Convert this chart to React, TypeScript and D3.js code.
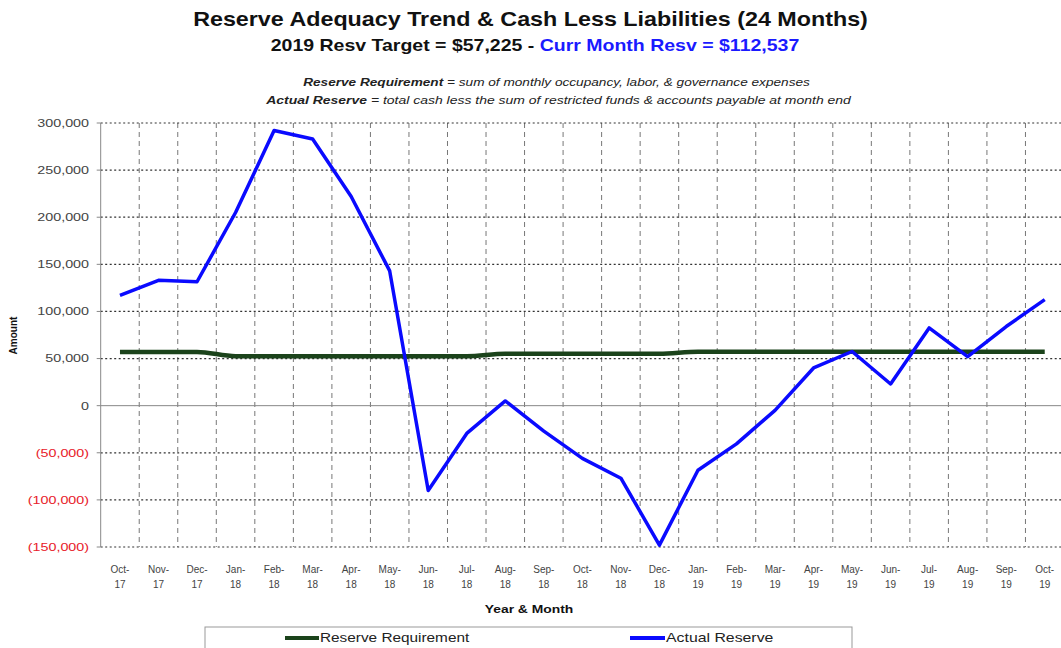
import React from "react";
import * as d3 from "d3";

const months = [
  "Oct-17", "Nov-17", "Dec-17", "Jan-18", "Feb-18", "Mar-18", "Apr-18", "May-18", "Jun-18",
  "Jul-18", "Aug-18", "Sep-18", "Oct-18", "Nov-18", "Dec-18", "Jan-19", "Feb-19", "Mar-19",
  "Apr-19", "May-19", "Jun-19", "Jul-19", "Aug-19", "Sep-19", "Oct-19",
];

const reserveRequirement = [
  57000, 57000, 57000, 52500, 52500, 52500, 52500, 52500, 52500,
  52500, 55000, 55000, 55000, 55000, 55000, 57225, 57225, 57225,
  57225, 57225, 57225, 57225, 57225, 57225, 57225,
];

const actualReserve = [
  117000, 133000, 131500, 205000, 292000, 283000, 222000, 143000, -90000,
  -29500, 5000, -27000, -56000, -77000, -148000, -68500, -40500, -5000,
  40000, 57500, 23000, 82500, 52000, 84000, 112537,
];

const yTicks = [300000, 250000, 200000, 150000, 100000, 50000, 0, -50000, -100000, -150000];

const W = 1061;
const H = 648;
const FONT = "Arial, 'Liberation Sans', sans-serif";
const GREEN = "#1b431b";
const BLUE = "#0a0aff";

function fmt(v: number) {
  const s = d3.format(",")(Math.abs(v));
  return v < 0 ? `(${s})` : s;
}

export default function App() {
  const plotLeft = 100.7;
  const plotRight = 1064;
  const x = d3.scaleBand<string>().domain(months).range([plotLeft, plotRight]).padding(0);
  const bw = x.bandwidth();
  const cx = (m: string) => (x(m) as number) + bw / 2;
  const y = d3.scaleLinear().domain([-150000, 300000]).range([547, 123]);

  const line = d3
    .line<number>()
    .x((_, i) => cx(months[i]))
    .y((d) => y(d));

  const reqLine = d3
    .line<number>()
    .x((_, i) => cx(months[i]))
    .y((d) => y(d))
    .curve(d3.curveMonotoneX);

  return (
    <svg
      width={W}
      height={H}
      style={{ position: "absolute", left: 0, top: 0, background: "#fff" }}
      fontFamily={FONT}
    >
      {/* Titles */}
      <g transform="translate(530.5,26) scale(1.165,1)">
        <text x={0} y={0} textAnchor="middle" fontSize={20} fontWeight="bold" fill="#111">
          Reserve Adequacy Trend &amp; Cash Less Liabilities (24 Months)
        </text>
      </g>
      <g transform="translate(535,51) scale(1.22,1)">
        <text x={0} y={0} textAnchor="middle" fontSize={16} fontWeight="bold" fill="#111">
          <tspan>2019 Resv Target = $57,225 - </tspan>
          <tspan fill="#1a1aff">Curr Month Resv = $112,537</tspan>
        </text>
      </g>
      <g transform="translate(556.5,86) scale(1.24,1)">
        <text x={0} y={0} textAnchor="middle" fontSize={11} fontStyle="italic" fill="#222">
          <tspan fontWeight="bold">Reserve Requirement</tspan>
          <tspan> = sum of monthly occupancy, labor, &amp; governance expenses</tspan>
        </text>
      </g>
      <g transform="translate(558.5,104) scale(1.27,1)">
        <text x={0} y={0} textAnchor="middle" fontSize={11} fontStyle="italic" fill="#222">
          <tspan fontWeight="bold">Actual Reserve</tspan>
          <tspan> = total cash less the sum of restricted funds &amp; accounts payable at month end</tspan>
        </text>
      </g>

      {/* Vertical dashed grid */}
      {months.slice(1).map((m) => (
        <line
          key={"vg" + m}
          x1={x(m) as number}
          x2={x(m) as number}
          y1={y(300000)}
          y2={y(-150000)}
          stroke="#777"
          strokeWidth={1}
          strokeDasharray="5,4"
        />
      ))}

      {/* Horizontal grid */}
      {yTicks.map((t) =>
        t === 0 ? (
          <line key={"hg" + t} x1={plotLeft} x2={plotRight} y1={y(t)} y2={y(t)} stroke="#888" strokeWidth={1} />
        ) : (
          <line
            key={"hg" + t}
            x1={plotLeft}
            x2={plotRight}
            y1={y(t)}
            y2={y(t)}
            stroke="#333"
            strokeWidth={1.2}
            strokeDasharray="2,2.5"
          />
        )
      )}

      {/* Y axis */}
      <line x1={plotLeft} x2={plotLeft} y1={y(300000)} y2={y(-150000)} stroke="#888" strokeWidth={1} />
      {yTicks.map((t) => (
        <g key={"yt" + t}>
          <line x1={plotLeft - 4} x2={plotLeft} y1={y(t)} y2={y(t)} stroke="#888" />
          <g transform={`translate(89,${y(t)}) scale(1.3,1)`}>
            <text x={0} y={0} dy="0.35em" textAnchor="end" fontSize={11} fill={t < 0 ? "#e8202a" : "#444"}>
              {fmt(t)}
            </text>
          </g>
        </g>
      ))}
      <text
        transform={`translate(17,${y(50000) - 23}) rotate(-90)`}
        textAnchor="middle"
        fontSize={10}
        fontWeight="bold"
        fill="#111"
      >
        Amount
      </text>

      {/* X tick labels */}
      {months.map((m) => {
        const [mo, yr] = m.split("-");
        return (
          <text key={"xl" + m} x={cx(m)} textAnchor="middle" fontSize={10} fill="#444">
            <tspan x={cx(m)} y={573}>{mo + "-"}</tspan>
            <tspan x={cx(m)} y={588}>{yr}</tspan>
          </text>
        );
      })}
      <g transform="translate(529,613) scale(1.26,1)">
        <text x={0} y={0} textAnchor="middle" fontSize={11} fontWeight="bold" fill="#111">
          Year &amp; Month
        </text>
      </g>

      {/* Series */}
      <path d={reqLine(reserveRequirement) || ""} fill="none" stroke={GREEN} strokeWidth={4.5} />
      <path d={line(actualReserve) || ""} fill="none" stroke={BLUE} strokeWidth={3.5} strokeLinejoin="round" />

      {/* Legend */}
      <rect x={205} y={627} width={647} height={40} fill="#fff" stroke="#999" strokeWidth={1} />
      <line x1={285} x2={319} y1={638} y2={638} stroke={GREEN} strokeWidth={4} />
      <g transform="translate(320,638) scale(1.28,1)">
        <text x={0} y={0} dy="0.35em" fontSize={12} fill="#222">
          Reserve Requirement
        </text>
      </g>
      <line x1={630} x2={665} y1={638} y2={638} stroke={BLUE} strokeWidth={4} />
      <g transform="translate(666,638) scale(1.32,1)">
        <text x={0} y={0} dy="0.35em" fontSize={12} fill="#222">
          Actual Reserve
        </text>
      </g>
    </svg>
  );
}
